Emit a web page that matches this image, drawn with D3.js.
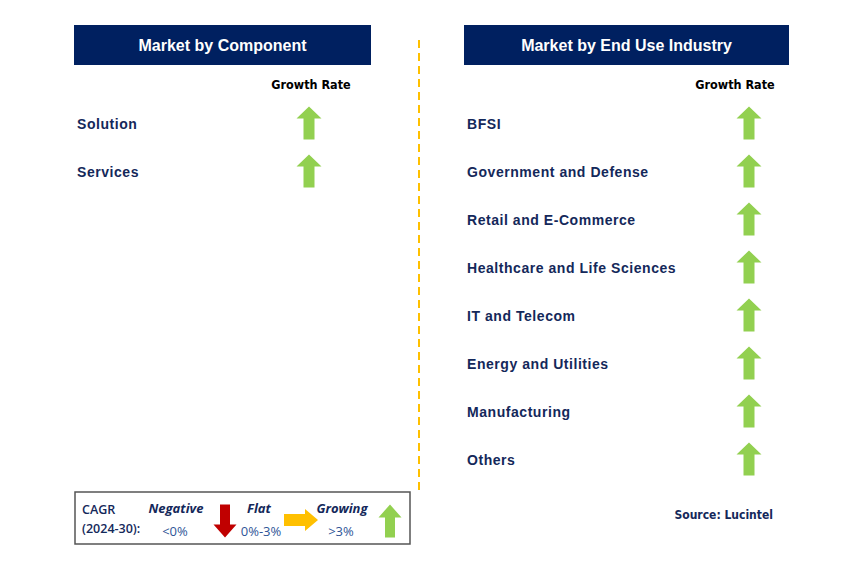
<!DOCTYPE html>
<html>
<head>
<meta charset="utf-8">
<script src="https://cdn.jsdelivr.net/npm/d3@7"></script>
<style>
  body { margin: 0; background: #fff; }
  svg { display: block; }
</style>
</head>
<body>
<script>
// chart data
const componentCategories = ["Solution", "Services"];
const componentGrowth = ["growing", "growing"];
const industryCategories = [
    "BFSI", "Government and Defense", "Retail and E-Commerce",
    "Healthcare and Life Sciences", "IT and Telecom", "Energy and Utilities",
    "Manufacturing", "Others"
];
const industryGrowth = ["growing", "growing", "growing", "growing", "growing", "growing", "growing", "growing"];
const panelTitles = ["Market by Component", "Market by End Use Industry"];
const legendItems = [
    { name: "Negative", range: "<0%", trend: "negative" },
    { name: "Flat", range: "0%-3%", trend: "flat" },
    { name: "Growing", range: ">3%", trend: "growing" }
];

const navy = "#002060";
const textNavy = "#14285a";
const colors = { growing: "#92D050", flat: "#FFC000", negative: "#C00000" };

const svg = d3.select("body").append("svg")
    .attr("width", 853)
    .attr("height", 586);

// up arrow path centred on 0,0, w wide and h tall
function arrowPath(w, h, headH, shaftW) {
    const p = d3.path();
    p.moveTo(0, -h / 2);
    p.lineTo(w / 2, -h / 2 + headH);
    p.lineTo(shaftW / 2, -h / 2 + headH);
    p.lineTo(shaftW / 2, h / 2);
    p.lineTo(-shaftW / 2, h / 2);
    p.lineTo(-shaftW / 2, -h / 2 + headH);
    p.lineTo(-w / 2, -h / 2 + headH);
    p.closePath();
    return p.toString();
}
const rotation = { growing: 0, flat: 90, negative: 180 };

// the row positions
const rowY = d3.scalePoint()
    .domain(d3.range(8))
    .range([124, 460]);

const panels = [
    { x0: 74, x1: 371, labelX: 77, rateX: 311, arrowX: 309, cats: componentCategories, growth: componentGrowth, title: panelTitles[0] },
    { x0: 464, x1: 789, labelX: 467, rateX: 735, arrowX: 749, cats: industryCategories, growth: industryGrowth, title: panelTitles[1] }
];

panels.forEach(pn => {
    const g = svg.append("g");
    g.append("rect")
        .attr("x", pn.x0).attr("y", 25)
        .attr("width", pn.x1 - pn.x0).attr("height", 40)
        .attr("fill", navy);
    g.append("text")
        .attr("x", (pn.x0 + pn.x1) / 2).attr("y", 45)
        .attr("text-anchor", "middle").attr("dominant-baseline", "central")
        .attr("fill", "#fff")
        .style("font", "bold 16px 'Liberation Sans', Arial, sans-serif")
        .text(pn.title);
    g.append("text")
        .attr("x", pn.rateX).attr("y", 84)
        .attr("text-anchor", "middle").attr("dominant-baseline", "central")
        .attr("fill", "#000")
        .style("font", "bold 12.5px 'DejaVu Sans Condensed', 'Liberation Sans', sans-serif")
        .text("Growth Rate");

    const rows = g.selectAll(".row")
        .data(pn.cats.map((c, i) => ({ name: c, trend: pn.growth[i], i })))
        .enter().append("g")
        .attr("class", "row")
        .attr("transform", d => `translate(0,${rowY(d.i)})`);
    rows.append("text")
        .attr("x", pn.labelX).attr("y", 0)
        .attr("dominant-baseline", "central")
        .attr("fill", textNavy)
        .style("font", "bold 14px 'Liberation Sans', Arial, sans-serif")
        .style("letter-spacing", "0.55px")
        .text(d => d.name);
    rows.append("path")
        .attr("transform", d => `translate(${pn.arrowX},-1) rotate(${rotation[d.trend]})`)
        .attr("d", arrowPath(25, 33, 12, 11))
        .attr("fill", d => colors[d.trend]);
});

// dashed divider
svg.append("line")
    .attr("x1", 419).attr("x2", 419)
    .attr("y1", 40).attr("y2", 490)
    .attr("stroke", "#FFC000")
    .attr("stroke-width", 2)
    .attr("stroke-dasharray", "8,5");

// legend
const lg = svg.append("g");
lg.append("rect")
    .attr("x", 75).attr("y", 492)
    .attr("width", 335).attr("height", 52)
    .attr("fill", "#fff")
    .attr("stroke", "#555")
    .attr("stroke-width", 1.5);
const legendFont = "'Open Sans', 'Liberation Sans', sans-serif";
lg.append("text").attr("x", 82).attr("y", 509)
    .attr("dominant-baseline", "central").attr("fill", textNavy)
    .style("font", `600 12.5px ${legendFont}`).text("CAGR");
lg.append("text").attr("x", 82).attr("y", 528)
    .attr("dominant-baseline", "central").attr("fill", textNavy)
    .style("font", `600 12.5px ${legendFont}`).text("(2024-30):");

const legendX = d3.scalePoint()
    .domain(legendItems.map(d => d.name))
    .range([176, 342]);
const arrowOffsets = { negative: 49, flat: 42, growing: 48 };

legendItems.forEach(it => {
    const cx = legendX(it.name);
    lg.append("text").attr("x", cx).attr("y", 508)
        .attr("text-anchor", "middle").attr("dominant-baseline", "central")
        .attr("fill", textNavy)
        .style("font", `italic bold 13px ${legendFont}`)
        .text(it.name);
    lg.append("text").attr("x", it.trend === "flat" ? cx + 2 : cx - 1).attr("y", 531)
        .attr("text-anchor", "middle").attr("dominant-baseline", "central")
        .attr("fill", "#2f5597")
        .style("font", `13px ${legendFont}`)
        .text(it.range);
    const ax = cx + arrowOffsets[it.trend];
    const ay = it.trend === "flat" ? 520 : 521;
    const dims = it.trend === "flat" ? [22, 34, 13, 12] : [23, 33, 13, 10];
    lg.append("path")
        .attr("transform", `translate(${ax},${ay}) rotate(${rotation[it.trend]})`)
        .attr("d", arrowPath(...dims))
        .attr("fill", colors[it.trend]);
});

svg.append("text")
    .attr("x", 773).attr("y", 515)
    .attr("text-anchor", "end").attr("dominant-baseline", "central")
    .attr("fill", textNavy)
    .style("font", "bold 12px 'DejaVu Sans Condensed', 'Liberation Sans', sans-serif")
    .text("Source: Lucintel");
</script>
</body>
</html>
